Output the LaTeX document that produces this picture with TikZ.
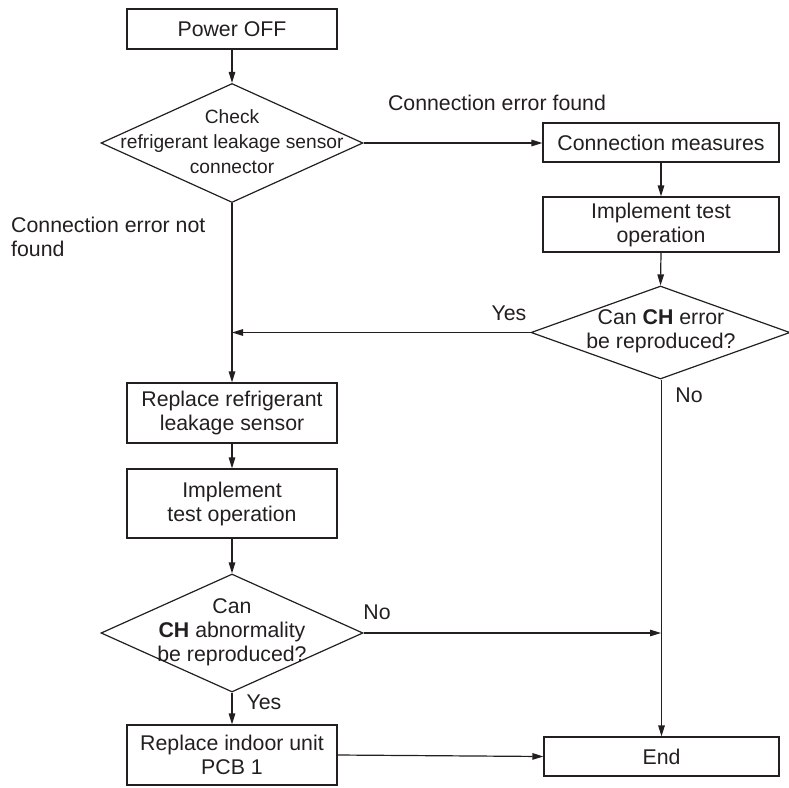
\documentclass[tikz,border=0pt]{standalone}
\usepackage{fontspec}
\setmainfont{Liberation Sans}
\usetikzlibrary{shapes.geometric,arrows.meta}
\definecolor{ink}{RGB}{35,31,32}
\tikzset{
  x=1pt, y=-1pt,
  every node/.style={text=ink, font=\fontsize{21.3}{24}\selectfont},
  box/.style={draw=ink, line width=1.2pt, rectangle, inner sep=0pt, align=center},
  dia/.style={draw=ink, line width=1.2pt, diamond, inner sep=0pt},
  lbl/.style={inner sep=0pt, align=center},
  conn/.style={draw=ink, line width=1.2pt, -{Triangle[length=11pt,width=6.5pt]}},
  plain/.style={draw=ink, line width=1.2pt}
}
\begin{document}
\begin{tikzpicture}
\useasboundingbox (0,0) rectangle (789,787);
% left column
\node[box, minimum width=210, minimum height=40] (p) at (232,29) {Power OFF};
\node[dia, minimum width=262, minimum height=119] (d1) at (232,143) {};
\node[lbl, font=\fontsize{19.2}{25}\selectfont] (d1t) at (232,142) {Check\\refrigerant leakage sensor\\connector};
\node[box, minimum width=210, minimum height=60] (rr) at (232,413) {Replace refrigerant\\leakage sensor};
\node[box, minimum width=210, minimum height=69] (it2) at (232,503.5) {Implement\\test operation};
\node[dia, minimum width=262, minimum height=118] (d3) at (232,633) {};
\node[lbl] (d3t) at (232,632) {Can\\\textbf{CH} abnormality\\be reproduced?};
\node[box, minimum width=210, minimum height=60] (pcb) at (232,755) {Replace indoor unit\\PCB 1};
% right column
\node[box, minimum width=236, minimum height=39] (cm) at (661,142.5) {Connection measures};
\node[box, minimum width=236, minimum height=55] (it1) at (661,224.5) {Implement test\\operation};
\node[dia, minimum width=259, minimum height=93] (d2) at (660.5,332.5) {};
\node[lbl] (d2t) at (661,331) {Can \textbf{CH} error\\be reproduced?};
\node[box, minimum width=235, minimum height=39] (end) at (661.5,756.5) {End};
% labels
\node[lbl] (l1) at (497,103) {Connection error found};
\node[lbl, align=left, anchor=west] (l2) at (11,236.5) {Connection error not\\found};
\node[lbl] (l3) at (509,313) {Yes};
\node[lbl] (l4) at (689,395) {No};
\node[lbl] (l5) at (377,612) {No};
\node[lbl] (l6) at (264,702) {Yes};
% junctions
\coordinate (j1) at (232,332.5);
\coordinate (j2) at (661,633);
% connectors
\draw[conn] (p.south) -- (d1.north);
\draw[conn] (d1.east) -- (cm.west |- d1.east);
\draw[conn] (cm.south) -- (it1.north);
\draw[conn] (it1.south) -- (d2.north);
\draw[conn] (d2.west) -- (j1);
\draw[conn] (d1.south) -- (rr.north);
\draw[conn] (rr.south) -- (it2.north);
\draw[conn] (it2.south) -- (d3.north);
\draw[conn] (d3.south) -- (pcb.north);
\draw[conn] (d3.east) -- (j2);
\draw[conn] (d2.south -| end.north) -- (end.north);
\draw[conn] (pcb.east) -- (end.west);
\end{tikzpicture}
\end{document}
